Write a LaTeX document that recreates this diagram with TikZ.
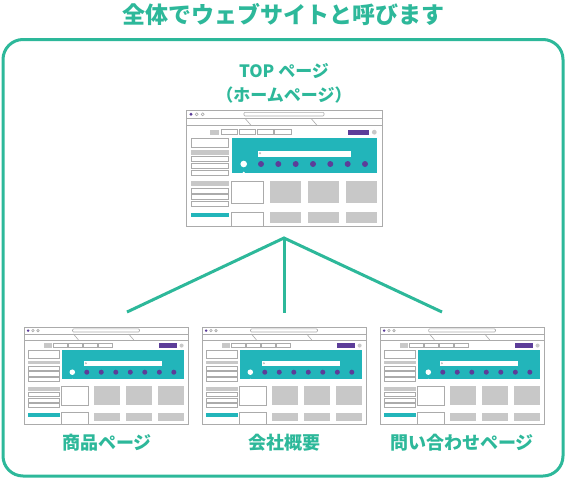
\documentclass[tikz,border=0pt]{standalone}
\usepackage{fontspec}
\setmainfont{Noto Sans CJK JP}
\definecolor{rahmen}{HTML}{2DB89A}
\definecolor{uigray}{HTML}{C8C8C8}
\definecolor{uiedge}{HTML}{ABABAB}
\definecolor{uiteal}{HTML}{22B5BA}
\definecolor{uipurple}{HTML}{5C3D99}

\tikzset{
  uiline/.style={draw=uiedge, line width=0.6pt},
  label/.style={text=rahmen, font=\bfseries\fontsize{18}{20}\selectfont, inner sep=0pt},
  browser/.pic={
    % Fenster
    \draw[uiline, line width=1pt, fill=white] (0,0) rectangle (196,116);
    \coordinate (-n) at (98,0);
    \coordinate (-s) at (98,116);
    % Titelleiste
    \fill[uipurple] (5,4.3) circle (1.6);
    \draw[uiline] (10.7,4.3) circle (1.5) (16.7,4.3) circle (1.5);
    \draw[uiline, rounded corners=1pt] (58,2.3) rectangle (138,6);
    \draw[uiline] (0,8.3) -- (196,8.3) (0,15.3) -- (196,15.3);
    \draw[uiline] (59,8.3) -- (65,15.3) (125,8.3) -- (131,15.3);
    % Navigation
    \fill[uigray] (24,19.7) rectangle (33.3,24.7);
    \foreach \u in {35,53,71,88.7}
      \draw[uiline] (\u,19.7) rectangle ++(16.3,5);
    \fill[uipurple] (161.7,19.7) rectangle (183,24.7);
    \fill[uigray] (188.3,22.2) circle (2.4);
    % Seitenleiste
    \draw[uiline] (5,28.3) rectangle (42.7,37);
    \fill[uigray] (5,40.3) rectangle (42.7,44.7);
    \foreach \v in {46.7,53.3,60}
      \draw[uiline] (5,\v) rectangle ++(37.7,5);
    \fill[uigray] (5,71.3) rectangle (42.7,76);
    \foreach \v in {78,84.7,91.3}
      \draw[uiline] (5,\v) rectangle ++(37.7,5);
    \fill[uiteal] (5,103.3) rectangle (42.7,107.3);
    % Hauptbild mit Suche
    \fill[uiteal] (45.7,27.7) rectangle (190.7,62.7);
    \fill[white] (71.7,40.7) rectangle (165,46.7);
    \draw[uiedge, line width=0.4pt] (74,43.3) circle (0.9);
    \fill[white] (57.7,54) circle (3.3) (57.7,62.7) circle (1.1);
    \foreach \u in {75,92.3,109.7,127,144.3,161.7,179}
      \fill[uipurple] (\u,54) circle (3);
    % Kacheln
    \draw[uiline] (45,71) rectangle (77,93.3);
    \draw[uiline] (45,116) -- (45,102.3) -- (77,102.3) -- (77,116);
    \foreach \u in {84,122,160} {
      \fill[uigray] (\u,71) rectangle ++(31,22.3);
      \fill[uigray] (\u,102.3) rectangle ++(31,10.4);
    }
  }
}

\begin{document}
\begin{tikzpicture}[x=1pt, y=-1pt]
    \useasboundingbox (0,0) rectangle (568,480);

    % Titel und Rahmen
    \node[label, font=\bfseries\fontsize{23}{25}\selectfont] (titel) at (283,15) {全体でウェブサイトと呼びます};
    \draw[rahmen, line width=3pt, rounded corners=20pt] (3,39.5) rectangle (563,476);

    % Startseite
    \node[label, font=\bfseries\fontsize{17}{19}\selectfont] (toplabel) at (284,71) {TOP ページ};
    \node[label, font=\bfseries\fontsize{17}{19}\selectfont] (homelabel) at (284,95) {（ホームページ）};
    \pic (top) at (186,110) {browser};

    % Unterseiten
    \pic[scale=0.837] (shop) at (24,327) {browser};
    \pic[scale=0.837] (firma) at (202,327) {browser};
    \pic[scale=0.837] (kontakt) at (380,327) {browser};

    \node[label] (shoplabel) at (107,443) {商品ページ};
    \node[label] (firmalabel) at (284,443) {会社概要};
    \node[label] (kontaktlabel) at (462,443) {問い合わせページ};

    % Verbindungen
    \coordinate (hub) at (284,238);
    \coordinate (shopend) at (127,312);
    \coordinate (firmaend) at (284,313);
    \coordinate (kontaktend) at (442,312);
    \draw[rahmen, line width=3pt] (shopend) -- (hub) -- (kontaktend);
    \draw[rahmen, line width=3pt] (hub) -- (firmaend);
\end{tikzpicture}
\end{document}
